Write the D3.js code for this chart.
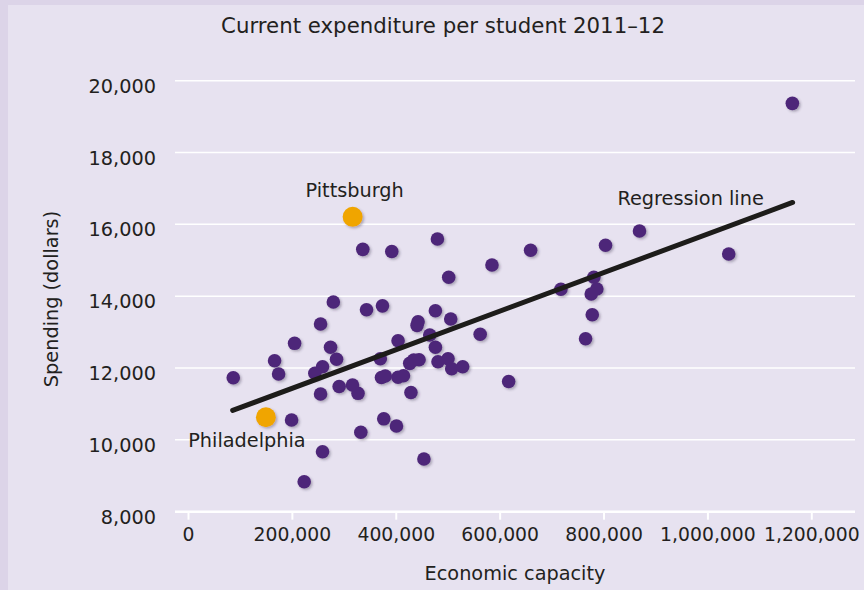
<!DOCTYPE html>
<html>
<head>
<meta charset="utf-8">
<script src="https://cdn.jsdelivr.net/npm/d3@7"></script>
<style>
  html, body { margin: 0; padding: 0; background: #e7e2f0; }
  svg { display: block; }
  text { font-family: "DejaVu Sans", sans-serif; fill: #231f20; }
</style>
</head>
<body>
<svg id="chart" width="864" height="590"></svg>
<script>
// ---- Data ----
const chartTitle = "Current expenditure per student 2011\u201312";
const xAxisTitle = "Economic capacity";
const yAxisTitle = "Spending (dollars)";

const xTicks = [0, 200000, 400000, 600000, 800000, 1000000, 1200000];
const yTicks = [8000, 10000, 12000, 14000, 16000, 18000, 20000];

// Other districts: economic capacity and spending per student
const capacity = [
  336500, 392300, 480200, 501900, 585200, 659600, 869200, 803800, 1041000, 1163500,
  279800, 343700, 374400, 255200, 442900, 441000, 476300, 505800, 465400, 562500,
  205200, 274400, 404400, 476300, 166700, 286000, 370200, 426900, 434600, 444800,
  481300, 500600, 507700, 528800, 259000, 244200, 87100, 174400, 255200, 291000,
  316700, 327300, 372500, 379800, 404400, 414800, 429200, 617300, 199400, 376900,
  401300, 332700, 259000, 223700, 454200, 717900, 781300, 787100, 776300, 778300,
  765400
];
const spending = [
  15305, 15244, 15592, 14526, 14868, 15280, 15815, 15417, 15174, 19370,
  13838, 13621, 13732, 13226, 13290, 13189, 13596, 13365, 12919, 12939,
  12688, 12577, 12761, 12577, 12204, 12243, 12260, 12131, 12223, 12232,
  12176, 12260, 11981, 12037, 12037, 11853, 11731, 11834, 11277, 11486,
  11527, 11296, 11736, 11778, 11742, 11786, 11318, 11625, 10553, 10586,
  10386, 10211, 9670, 8835, 9467, 14192, 14526, 14200, 14061, 13484,
  12816
];

// Highlighted cities
const cityNames = ["Pittsburgh", "Philadelphia"];
const cityCapacity = [317000, 150000];
const citySpending = [16210, 10630];

// Regression line end points
const regressionLabel = "Regression line";
const regressionX = [86000, 1164000];
const regressionY = [10820, 16610];

// ---- Drawing ----
const W = 864, H = 590;
const svg = d3.select("#chart");

// background + frame strips
svg.append("rect").attr("width", W).attr("height", H).attr("fill", "#e7e2f0");
svg.append("rect").attr("width", W).attr("height", 5).attr("fill", "#dcd4e8");
svg.append("rect").attr("width", 8).attr("height", H).attr("fill", "#dcd4e8");

const defs = svg.append("defs");
const f = defs.append("filter").attr("id", "shadow")
  .attr("x", "-50%").attr("y", "-50%").attr("width", "200%").attr("height", "200%");
f.append("feDropShadow").attr("dx", 1.6).attr("dy", 1.6).attr("stdDeviation", 1.1)
  .attr("flood-color", "#3a3050").attr("flood-opacity", 0.35);

const x = d3.scaleLinear().domain([0, 1200000]).range([188, 811.3]);
const y = d3.scaleLinear().domain([8000, 20000]).range([511.7, 80.7]);
const gridLeft = 175, gridRight = 855;

// gridlines
svg.append("g").selectAll("line").data(yTicks.slice(1)).join("line")
  .attr("x1", gridLeft).attr("x2", gridRight)
  .attr("y1", d => y(d)).attr("y2", d => y(d))
  .attr("stroke", "#ffffff").attr("stroke-width", 1.5);

// x axis
const xAxis = d3.axisBottom(x).tickValues(xTicks).tickSize(8).tickPadding(8)
  .tickFormat(d3.format(","));
const gx = svg.append("g").attr("transform", `translate(0,${y(8000)})`).call(xAxis);
gx.select(".domain").remove();
gx.selectAll(".tick line").attr("stroke", "#ffffff").attr("stroke-width", 2);
gx.selectAll(".tick text").attr("font-size", 18.8).attr("font-family", "DejaVu Sans")
  .attr("fill", "#231f20");
gx.insert("line", ":first-child").attr("x1", gridLeft).attr("x2", gridRight)
  .attr("y1", 0).attr("y2", 0).attr("stroke", "#ffffff").attr("stroke-width", 2.5);

// y axis
const yAxis = d3.axisLeft(y).tickValues(yTicks).tickSize(0).tickPadding(0)
  .tickFormat(d3.format(","));
const gy = svg.append("g").attr("transform", "translate(156,0)").call(yAxis);
gy.select(".domain").remove();
gy.selectAll(".tick text").attr("font-size", 19.3).attr("font-family", "DejaVu Sans")
  .attr("fill", "#231f20").attr("dy", "0.6em");

// titles
svg.append("text").attr("x", 443).attr("y", 33).attr("text-anchor", "middle")
  .attr("font-size", 21.3).text(chartTitle);
svg.append("text").attr("x", 515).attr("y", 580).attr("text-anchor", "middle")
  .attr("font-size", 19.3).text(xAxisTitle);
svg.append("text").attr("transform", "translate(58,299) rotate(-90)")
  .attr("text-anchor", "middle").attr("font-size", 19.3).text(yAxisTitle);

// points
const pts = capacity.map((c, i) => ({c, s: spending[i]}));
svg.append("g").attr("filter", "url(#shadow)").selectAll("circle").data(pts).join("circle")
  .attr("cx", d => x(d.c)).attr("cy", d => y(d.s)).attr("r", 6.8)
  .attr("fill", "#4e2679");

// regression line
svg.append("line")
  .attr("x1", x(regressionX[0])).attr("y1", y(regressionY[0]))
  .attr("x2", x(regressionX[1])).attr("y2", y(regressionY[1]))
  .attr("stroke", "#1d1c1a").attr("stroke-width", 5).attr("stroke-linecap", "round");
svg.append("text").attr("x", x(regressionX[1]) - 102).attr("y", y(regressionY[1]) + 3)
  .attr("text-anchor", "middle").attr("font-size", 19.3).text(regressionLabel);

// cities
const cities = cityNames.map((n, i) => ({n, c: cityCapacity[i], s: citySpending[i]}));
svg.append("g").attr("filter", "url(#shadow)").selectAll("circle").data(cities).join("circle")
  .attr("cx", d => x(d.c)).attr("cy", d => y(d.s)).attr("r", 10)
  .attr("fill", "#f0a500");
const labelOffsets = [{dx: 2, dy: -20}, {dx: -19, dy: 30}];
svg.append("g").selectAll("text").data(cities).join("text")
  .attr("x", (d, i) => x(d.c) + labelOffsets[i].dx)
  .attr("y", (d, i) => y(d.s) + labelOffsets[i].dy)
  .attr("text-anchor", "middle").attr("font-size", 19.3).text(d => d.n);
</script>
</body>
</html>
